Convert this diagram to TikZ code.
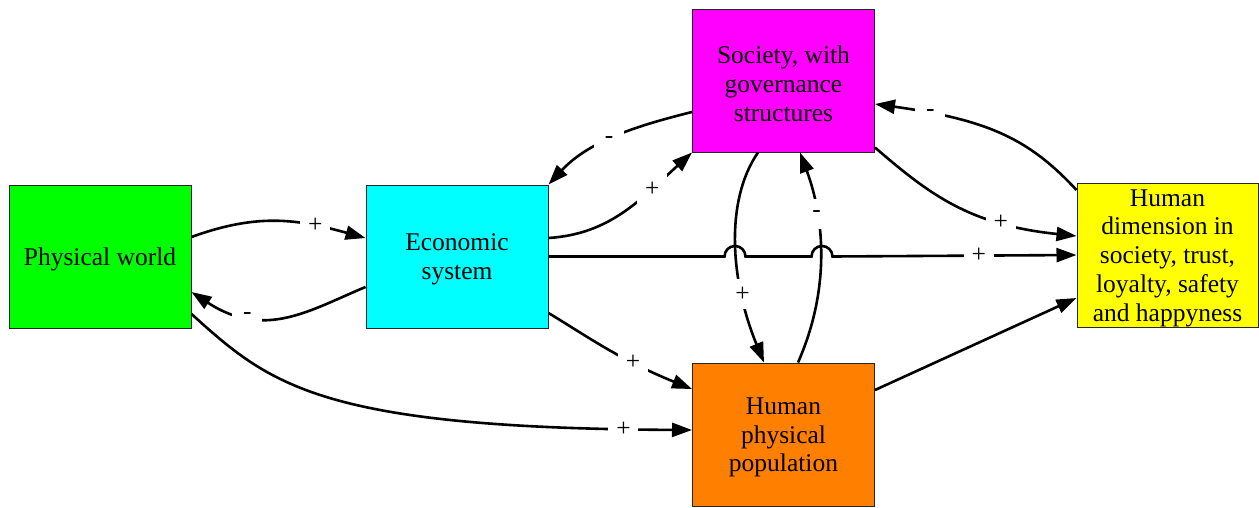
\documentclass[tikz,border=0pt]{standalone}
\usepackage{fontspec}
\setmainfont{Liberation Serif}
\usetikzlibrary{arrows.meta}
\definecolor{physgreen}{RGB}{0,255,0}
\definecolor{econcyan}{RGB}{0,255,255}
\definecolor{socmagenta}{RGB}{255,0,255}
\definecolor{poporange}{RGB}{255,128,0}
\definecolor{humyellow}{RGB}{255,255,0}
\begin{document}
\begin{tikzpicture}[x=1pt,y=-1pt,
  box/.style={draw=black!85, line width=1pt, minimum width=182pt, minimum height=143pt,
    inner sep=0pt},
  boxtext/.style={inner sep=0pt, align=center, font=\fontsize{25.5}{28.8}\selectfont},
  link/.style={line width=2.6pt, -{Triangle[length=20pt,width=14pt]}},
  lbl/.style={fill=white, inner sep=0pt, minimum width=30pt, minimum height=30pt,
    font=\fontsize{25.5}{28.8}\selectfont}]
\useasboundingbox (0,0) rectangle (1259,507);
\fill[white] (0,0) rectangle (1259,507);

% boxes
\node[box, fill=physgreen] (phys) at (100,256.5) {};
\node[box, fill=econcyan] (eco) at (457,256.5) {};
\node[box, fill=socmagenta] (soc) at (783.5,80.5) {};
\node[box, fill=poporange] (pop) at (783.5,434.5) {};
\node[box, fill=humyellow, minimum width=181pt, minimum height=144pt] (hd) at (1167.5,255) {};

% box captions
\node[boxtext] (physT) at ([yshift=-3pt]phys.center) {Physical world};
\node[boxtext] (ecoT) at ([yshift=-3pt]eco.center) {Economic\\system};
\node[boxtext] (socT) at ([yshift=-3pt]soc.center) {Society, with\\governance\\structures};
\node[boxtext] (popT) at ([yshift=-3pt]pop.center) {Human\\physical\\population};
\node[boxtext] (hdT) at ([yshift=-3pt]hd.center)
  {Human\\dimension in\\society, trust,\\loyalty, safety\\and happyness};

% influences
\draw[link] ([yshift=19.5pt]phys.east) .. controls (260,212) and (300,220) ..
  ([yshift=18.5pt]eco.west) node[lbl,pos=0.72] {+};
\draw[link] ([yshift=-30.5pt]eco.west) .. controls (310,310) and (265,340) ..
  ([yshift=-35.5pt]phys.east) node[lbl,pos=0.72] {-};
\draw[link] ([yshift=18.5pt]eco.east) .. controls (610,234) and (640,200) ..
  (soc.south west) node[lbl,pos=0.72] {+};
\draw[link] ([yshift=-31.5pt]soc.west) .. controls (640,125) and (590,140) ..
  (eco.north east) node[lbl,pos=0.55] {-};
\draw[link] ([yshift=5pt]soc.south east) .. controls (930,195) and (970,225) ..
  ([yshift=19pt]hd.west) node[lbl,pos=0.72] {+};
\draw[link] ([yshift=65pt]hd.west) .. controls (1030,140) and (990,120) ..
  ([yshift=-23.5pt]soc.east) node[lbl,pos=0.82] {-};
\draw[link] ([xshift=-25.5pt]soc.south) .. controls (725,200) and (730,280) ..
  ([xshift=-19.5pt]pop.north) node[lbl,pos=0.72] {+};
\draw[link] ([xshift=14.5pt]pop.north) .. controls (830,290) and (825,220) ..
  ([xshift=16.5pt]soc.south) node[lbl,pos=0.7] {-};
\draw[link] ([yshift=-56.5pt]eco.east) .. controls (585,335) and (620,360) ..
  ([yshift=45.5pt]pop.west) node[lbl,pos=0.68] {+};
\draw[link] ([yshift=-57.5pt]phys.east) .. controls (270,385) and (320,428) ..
  ([yshift=4.5pt]pop.west) node[lbl,pos=0.935] {+};
\draw[link] ([yshift=44.5pt]pop.east) -- ([yshift=-43pt]hd.west);

% straight link with line jumps over the two vertical links
\draw[link] (eco.east) -- ++(176,0) arc[start angle=180, end angle=360, radius=10.5]
  -- ++(66,0) arc[start angle=180, end angle=360, radius=10.5]
  -- (hd.west) node[lbl,pos=0.6] {+};
\end{tikzpicture}
\end{document}
